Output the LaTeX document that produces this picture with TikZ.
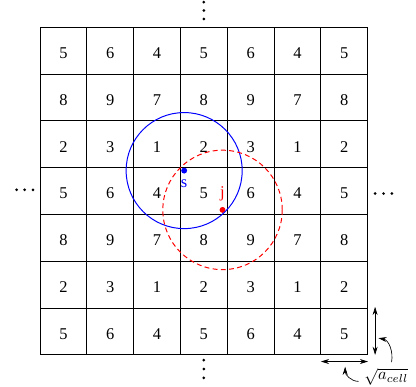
\documentclass[tikz,border=0pt]{standalone}
\usepackage{fontspec}
\setmainfont{Liberation Serif}
\usetikzlibrary{positioning,arrows.meta}
\begin{document}
\begin{tikzpicture}[x=1cm,y=1cm]
\useasboundingbox (-0.855,-0.684) rectangle (8.034,7.585);
\draw[semithick] (0,0) grid (7,7);

\foreach \v [count=\i from 0] in {5,6,4,5,6,4,5} \node (a\i) at (\i+0.5,6.45) {\v};
\foreach \v [count=\i from 0] in {8,9,7,8,9,7,8} \node (b\i) at (\i+0.5,5.45) {\v};
\foreach \v [count=\i from 0] in {2,3,1,2,3,1,2} \node (c\i) at (\i+0.5,4.45) {\v};
\foreach \v [count=\i from 0] in {5,6,4,5,6,4,5} \node (d\i) at (\i+0.5,3.45) {\v};
\foreach \v [count=\i from 0] in {8,9,7,8,9,7,8} \node (e\i) at (\i+0.5,2.45) {\v};
\foreach \v [count=\i from 0] in {2,3,1,2,3,1,2} \node (f\i) at (\i+0.5,1.45) {\v};
\foreach \v [count=\i from 0] in {5,6,4,5,6,4,5} \node (g\i) at (\i+0.5,0.45) {\v};

\node[circle,fill=blue,inner sep=0pt,minimum size=3.6pt] (s) at (3.08,3.94) {};
\node[circle,fill=red,inner sep=0pt,minimum size=3.6pt] (j) at (3.9,3.1) {};
\node[blue,below=0pt of s] (sl) {s};
\node[red,above=0pt of j] (jl) {j};
\path[draw,blue,semithick] (s) circle (1.24);
\path[draw,red,semithick,dash pattern=on 3pt off 2pt] (j) circle (1.276);

\foreach \t in {7.18,7.36,7.54} \fill (3.5,\t) circle (0.9pt);
\foreach \t in {-0.11,-0.3,-0.49} \fill (3.5,\t) circle (0.9pt);
\foreach \t in {-0.5,-0.33,-0.15} \fill (\t,3.53) circle (0.9pt);
\foreach \t in {7.16,7.34,7.52} \fill (\t,3.45) circle (0.9pt);

\coordinate (v1) at (7.16,0);
\coordinate (v2) at (7.16,1.03);
\coordinate (h1) at (6.0,-0.14);
\coordinate (h2) at (7.01,-0.14);
\path[draw,{Stealth[length=5pt,width=3pt]}-{Stealth[length=5pt,width=3pt]}] (v1) -- (v2);
\path[draw,{Stealth[length=5pt,width=3pt]}-{Stealth[length=5pt,width=3pt]}] (h1) -- (h2);

\node (acell) at (7.4,-0.46) {$\sqrt{a_{cell}}$};
\coordinate (ta) at (7.23,0.36);
\coordinate (tb) at (6.52,-0.25);
\path[draw,-{Stealth[length=5pt,width=3pt]}] (acell.70) to[out=80,in=-10] (ta);
\path[draw,-{Stealth[length=5pt,width=3pt]}] (acell.190) to[out=180,in=-90] (tb);
\end{tikzpicture}
\end{document}
